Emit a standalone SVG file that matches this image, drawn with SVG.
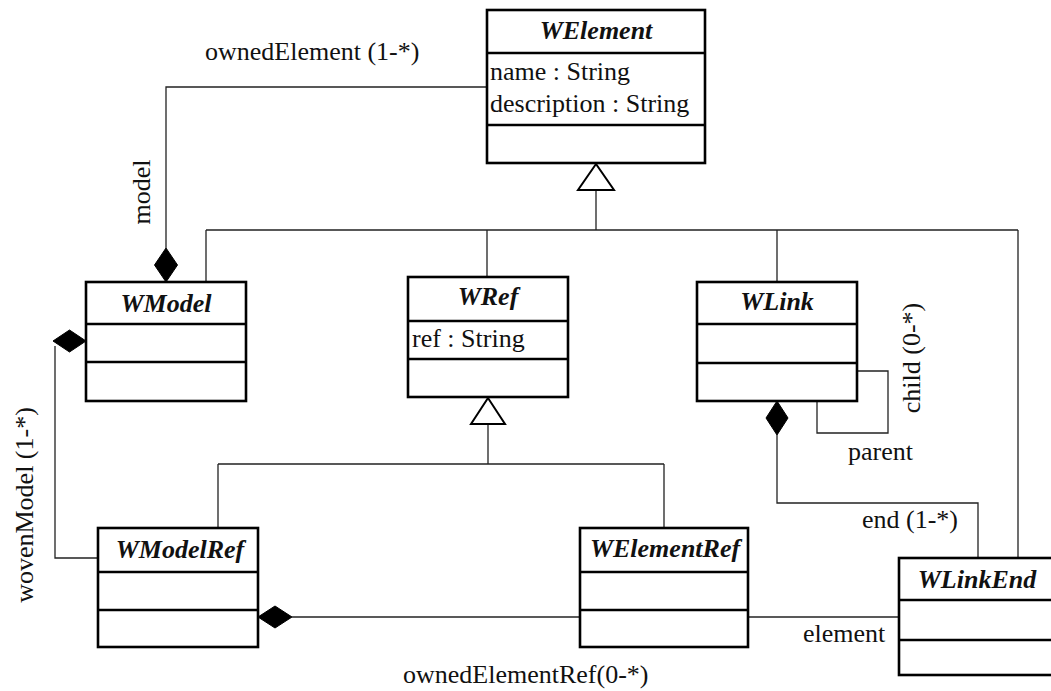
<svg xmlns="http://www.w3.org/2000/svg" width="1051" height="691" viewBox="0 0 1051 691">
  <defs>
    <style>
      .box { fill: #ffffff; stroke: #000000; stroke-width: 2.6; }
      .sep { stroke: #000000; stroke-width: 2.6; }
      .line { fill: none; stroke: #222222; stroke-width: 1.3; }
      .tri { fill: #ffffff; stroke: #000000; stroke-width: 2; stroke-linejoin: miter; }
      .dia { fill: #000000; stroke: #000000; stroke-width: 1; }
      .title { font-family: "Liberation Serif", "Times New Roman", serif; font-size: 26px; font-weight: bold; font-style: italic; fill: #111111; text-anchor: middle; }
      .attr { font-family: "Liberation Serif", "Times New Roman", serif; font-size: 26px; fill: #111111; }
      .lbl { font-family: "Liberation Serif", "Times New Roman", serif; font-size: 26px; fill: #111111; }
    </style>
  </defs>
  <rect width="1051" height="691" fill="#ffffff"/>

  <!-- connectors -->
  <g id="connectors">
    <!-- generalization to WElement -->
    <path class="line" d="M596,190 V230 M206,230 H1018 M206,230 V282 M487,230 V277 M777,230 V282 M1018,230 V558"/>
    <polygon class="tri" points="596,164 578,190 614,190"/>
    <!-- generalization to WRef -->
    <path class="line" d="M488,424 V464 M218,464 H664 M218,464 V528 M664,464 V528"/>
    <polygon class="tri" points="488,398 471,424 505,424"/>
    <!-- ownedElement / model -->
    <path class="line" d="M487,87 H166 V248"/>
    <polygon class="dia" points="166,248 177.5,265 166,282 154.5,265"/>
    <!-- wovenModel -->
    <path class="line" d="M55,346 V558 H98"/>
    <polygon class="dia" points="53,341 69.5,330 86,341 69.5,352"/>
    <!-- ownedElementRef -->
    <path class="line" d="M292,617 H580"/>
    <polygon class="dia" points="258,617 275,606 292,617 275,628"/>
    <!-- child / parent self association -->
    <path class="line" d="M857,371 H888 V433 H817 V401"/>
    <!-- end -->
    <path class="line" d="M777,435 V503 H978 V558"/>
    <polygon class="dia" points="777,401 788,418 777,435 766,418"/>
    <!-- element -->
    <path class="line" d="M748,617 H899"/>
  </g>

  <!-- connector labels -->
  <g id="labels">
    <text class="lbl" x="205" y="60">ownedElement (1-*)</text>
    <text class="lbl" text-anchor="middle" transform="translate(150,192) rotate(-90)">model</text>
    <text class="lbl" text-anchor="middle" transform="translate(33,505) rotate(-90)">wovenModel (1-*)</text>
    <text class="lbl" text-anchor="middle" transform="translate(920,358) rotate(-90)">child (0-*)</text>
    <text class="lbl" x="848" y="460">parent</text>
    <text class="lbl" x="862" y="528">end (1-*)</text>
    <text class="lbl" x="803" y="642">element</text>
    <text class="lbl" x="403" y="683">ownedElementRef(0-*)</text>
  </g>

  <g id="WElement">
    <rect class="box" x="487" y="10" width="218" height="153"/>
    <line class="sep" x1="487" y1="53" x2="705" y2="53"/>
    <line class="sep" x1="487" y1="125" x2="705" y2="125"/>
    <text class="title" x="596" y="39">WElement</text>
    <text class="attr" x="490" y="80">name : String</text>
    <text class="attr" x="490" y="112">description : String</text>
  </g>

  <g id="WModel">
    <rect class="box" x="86" y="282" width="160" height="119"/>
    <line class="sep" x1="86" y1="324" x2="246" y2="324"/>
    <line class="sep" x1="86" y1="362" x2="246" y2="362"/>
    <text class="title" x="166" y="312">WModel</text>
  </g>

  <g id="WRef">
    <rect class="box" x="408" y="277" width="160" height="120"/>
    <line class="sep" x1="408" y1="321" x2="568" y2="321"/>
    <line class="sep" x1="408" y1="359" x2="568" y2="359"/>
    <text class="title" x="488" y="305">WRef</text>
    <text class="attr" x="412" y="347">ref : String</text>
  </g>

  <g id="WLink">
    <rect class="box" x="697" y="282" width="160" height="119"/>
    <line class="sep" x1="697" y1="324" x2="857" y2="324"/>
    <line class="sep" x1="697" y1="363" x2="857" y2="363"/>
    <text class="title" x="777" y="310">WLink</text>
  </g>

  <g id="WModelRef">
    <rect class="box" x="98" y="528" width="160" height="119"/>
    <line class="sep" x1="98" y1="572" x2="258" y2="572"/>
    <line class="sep" x1="98" y1="610" x2="258" y2="610"/>
    <text class="title" x="180" y="558">WModelRef</text>
  </g>

  <g id="WElementRef">
    <rect class="box" x="580" y="528" width="168" height="119"/>
    <line class="sep" x1="580" y1="572" x2="748" y2="572"/>
    <line class="sep" x1="580" y1="610" x2="748" y2="610"/>
    <text class="title" x="665" y="557">WElementRef</text>
  </g>

  <g id="WLinkEnd">
    <rect class="box" x="899" y="558" width="156" height="117"/>
    <line class="sep" x1="899" y1="600" x2="1055" y2="600"/>
    <line class="sep" x1="899" y1="640" x2="1055" y2="640"/>
    <text class="title" x="977" y="588">WLinkEnd</text>
  </g>
</svg>
